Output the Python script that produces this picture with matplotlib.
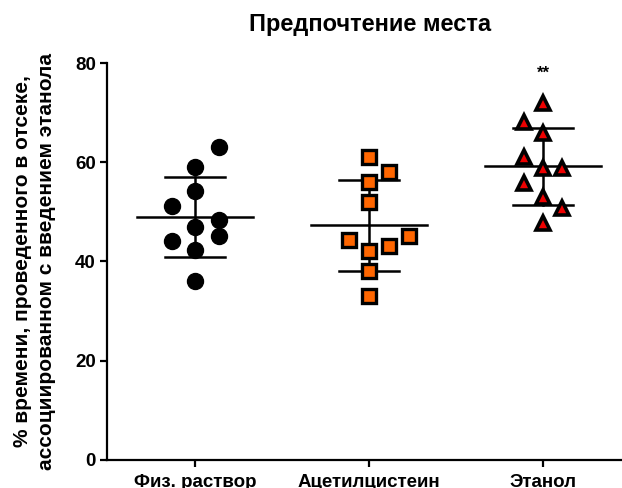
import numpy as np
import matplotlib
matplotlib.use("Agg")
from matplotlib import pyplot as plt

plt.rcParams["font.family"] = ["Liberation Sans", "DejaVu Sans"]
plt.rcParams["font.weight"] = "bold"

groups = ["Физ. раствор", "Ацетилцистеин", "Этанол"]
saline = [63.1, 59.0, 54.2, 51.2, 48.4, 45.1, 47.0, 44.1, 42.3, 36.1]
nac = [61.1, 58.0, 56.0, 52.0, 44.3, 45.1, 43.1, 42.1, 38.1, 33.0]
ethanol = [71.9, 68.1, 65.9, 61.1, 58.8, 58.8, 55.8, 53.0, 50.8, 47.8]
signif = ["", "", "**"]

# column (scatter) slot of each point, in units of one column width
cols = [
    [1, 0, 0, -1, 1, 1, 0, -1, 0, 0],
    [0, 1, 0, 0, -1, 2, 1, 0, 0, 0],
    [0, -1, 0, -1, 0, 1, -1, 0, 1, 0],
]
col_w = [0.135, 0.115, 0.112]
styles = [
    dict(marker="o", color="black", markeredgecolor="black", ms=11.5),
    dict(marker="s", color="#ff6600", markeredgecolor="black", ms=10.5, markeredgewidth=2.4),
    dict(marker="^", color="#ee0000", markeredgecolor="black", ms=10.5, markeredgewidth=2.6),
]

fig = plt.figure(figsize=(6.22, 4.88), dpi=100)
ax = fig.add_axes([0.172, 0.0574, 0.828, 0.8135])

for i, vals in enumerate([saline, nac, ethanol]):
    x0 = i + 1
    xs = [x0 + c * col_w[i] for c in cols[i]]
    m = np.mean(vals)
    sd = np.std(vals, ddof=1)
    ax.plot([x0 - 0.335, x0 + 0.335], [m, m], color="black", lw=1.8, zorder=2)
    ax.plot([x0, x0], [m - sd, m + sd], color="black", lw=1.8, zorder=2)
    for y in (m - sd, m + sd):
        ax.plot([x0 - 0.17, x0 + 0.17], [y, y], color="black", lw=1.8, zorder=2)
    ax.plot(xs, vals, ls="none", zorder=3, **styles[i])
    if signif[i]:
        ax.text(x0, 78, signif[i], ha="center", va="center", fontsize=12, fontweight="bold")

ax.set_xlim(0.494, 3.454)
ax.set_ylim(0, 80)
ax.set_yticks([0, 20, 40, 60, 80])
ax.set_xticks([1, 2, 3])
ax.set_xticklabels(groups)
for s in ["top", "right"]:
    ax.spines[s].set_visible(False)
for s in ["left", "bottom"]:
    ax.spines[s].set_linewidth(1.6)
ax.tick_params(width=1.6, length=5, labelsize=13.5)
ax.tick_params(axis="x", pad=5)
ax.tick_params(axis="y", pad=3)
for lab in ax.get_xticklabels() + ax.get_yticklabels():
    lab.set_fontweight("bold")

ax.set_ylabel("% времени, проведенного в отсеке,\nассоциированном с введением этанола",
              fontsize=15, fontweight="bold", labelpad=14, linespacing=1.3)
ax.set_title("Предпочтение места", fontsize=17, fontweight="bold", pad=23, x=0.51)

fig.savefig("out.png", dpi=100)
